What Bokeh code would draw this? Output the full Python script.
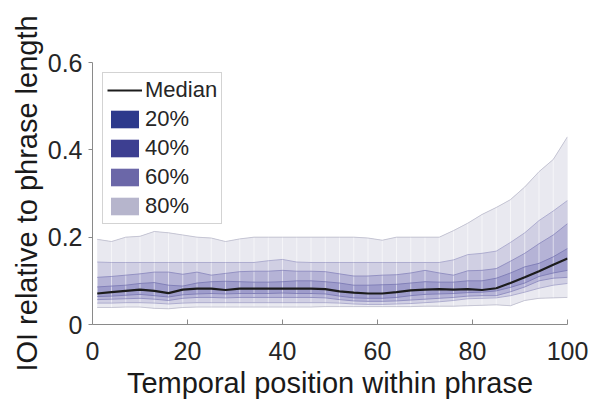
from bokeh.plotting import figure
from bokeh.models import Range1d, FixedTicker, Legend, LegendItem
from bokeh.embed import file_html
from bokeh.resources import INLINE

# ---- data ----
pos = [1, 4, 7, 10, 13, 16, 19, 22, 25, 28, 31, 34, 37, 40, 43, 46, 49, 52,
       55, 58, 61, 64, 67, 70, 73, 76, 79, 82, 85, 88, 91, 94, 97, 100]
p90 = [0.195, 0.19, 0.2, 0.202, 0.213, 0.21, 0.205, 0.2, 0.198, 0.19, 0.196, 0.2,
       0.2, 0.2, 0.2, 0.2, 0.2, 0.2, 0.2, 0.198, 0.193, 0.2, 0.2, 0.2, 0.2, 0.215,
       0.232, 0.252, 0.268, 0.286, 0.315, 0.35, 0.378, 0.43]
p80 = [0.143, 0.142, 0.142, 0.142, 0.142, 0.142, 0.142, 0.142, 0.142, 0.142, 0.142,
       0.142, 0.146, 0.149, 0.143, 0.142, 0.142, 0.142, 0.142, 0.142, 0.142, 0.142,
       0.142, 0.142, 0.142, 0.148, 0.16, 0.163, 0.168, 0.188, 0.21, 0.238, 0.26, 0.284]
p70 = [0.108, 0.11, 0.113, 0.116, 0.12, 0.12, 0.115, 0.12, 0.113, 0.117, 0.121, 0.122,
       0.122, 0.124, 0.122, 0.122, 0.121, 0.116, 0.111, 0.111, 0.113, 0.114, 0.118,
       0.124, 0.118, 0.113, 0.123, 0.124, 0.128, 0.145, 0.163, 0.185, 0.205, 0.231]
p60 = [0.086, 0.088, 0.09, 0.094, 0.096, 0.09, 0.088, 0.095, 0.098, 0.099, 0.098, 0.097,
       0.097, 0.098, 0.1, 0.1, 0.098, 0.095, 0.09, 0.09, 0.091, 0.092, 0.095, 0.098,
       0.097, 0.097, 0.1, 0.1, 0.106, 0.118, 0.132, 0.14, 0.155, 0.174]
median = [0.071, 0.074, 0.077, 0.08, 0.077, 0.072, 0.08, 0.082, 0.082, 0.079, 0.082,
          0.082, 0.082, 0.082, 0.082, 0.082, 0.081, 0.076, 0.073, 0.071, 0.071, 0.074,
          0.078, 0.08, 0.081, 0.08, 0.081, 0.079, 0.083, 0.095, 0.108, 0.122, 0.137, 0.151]
p40 = [0.064, 0.065, 0.067, 0.069, 0.066, 0.063, 0.068, 0.07, 0.071, 0.07, 0.071, 0.071,
       0.071, 0.072, 0.071, 0.071, 0.07, 0.065, 0.061, 0.06, 0.06, 0.062, 0.066, 0.069,
       0.07, 0.071, 0.073, 0.074, 0.077, 0.085, 0.095, 0.11, 0.118, 0.124]
p30 = [0.057, 0.058, 0.059, 0.06, 0.058, 0.055, 0.06, 0.062, 0.062, 0.061, 0.062, 0.062,
       0.062, 0.062, 0.062, 0.062, 0.061, 0.057, 0.054, 0.053, 0.053, 0.054, 0.056,
       0.058, 0.06, 0.062, 0.065, 0.066, 0.066, 0.075, 0.086, 0.1, 0.106, 0.108]
p20 = [0.049, 0.049, 0.05, 0.05, 0.049, 0.047, 0.049, 0.05, 0.05, 0.05, 0.05, 0.05,
       0.05, 0.05, 0.05, 0.05, 0.05, 0.049, 0.047, 0.046, 0.046, 0.047, 0.048, 0.05,
       0.052, 0.055, 0.059, 0.06, 0.061, 0.066, 0.074, 0.083, 0.09, 0.094]
p10 = [0.039, 0.039, 0.04, 0.04, 0.037, 0.036, 0.039, 0.04, 0.04, 0.04, 0.04, 0.04,
       0.04, 0.04, 0.04, 0.04, 0.041, 0.041, 0.041, 0.041, 0.041, 0.041, 0.041, 0.042,
       0.042, 0.042, 0.043, 0.044, 0.045, 0.043, 0.055, 0.06, 0.061, 0.062]

band_labels = ["20%", "40%", "60%", "80%"]
x_ticks = [0, 20, 40, 60, 80, 100]
y_ticks = [0, 0.2, 0.4, 0.6]
y_tick_labels = ["0", "0.2", "0.4", "0.6"]
x_title = "Temporal position within phrase"
y_title = "IOI relative to phrase length"

FONT = "Liberation Sans"

p = figure(width=590, height=405, output_backend="svg", toolbar_location=None,
           x_range=Range1d(0, 100), y_range=Range1d(0, 0.6),
           min_border_left=92, min_border_right=23, min_border_top=62,
           min_border_bottom=81)
p.outline_line_color = None
p.grid.visible = False
p.background_fill_color = "white"
p.border_fill_color = "white"

uppers = [p60, p70, p80, p90]   # 20%, 40%, 60%, 80% bands
lowers = [p40, p30, p20, p10]

# legend swatch renderers (hidden underneath the opaque bands drawn later)
sw_colors = ["#2d3a8c", "#3d3f91", "#6b67a8", "#b6b5cc"]
sw_renderers = []
for up, lo, c in zip(uppers, lowers, sw_colors):
    sw_renderers.append(p.varea(x=pos, y1=lo, y2=up, fill_color=c))

# visible bands, outer to inner
fills = {"80%": "#e9e9f0", "60%": "#d0cfe3", "40%": "#b5b3d6", "20%": "#9e9ccb"}
edges = {"80%": "#c6c6d4", "60%": "#aeadcf", "40%": "#9391c2", "20%": "#8280b8"}
for i in [3, 2, 1, 0]:
    lab = band_labels[i]
    p.varea(x=pos, y1=lowers[i], y2=uppers[i], fill_color=fills[lab])

# faint vertical seams like the reference's patch stripes
p.segment(x0=pos, y0=p10, x1=pos, y1=p90, line_color="white", line_alpha=0.55,
          line_width=1)

for i in [3, 2, 1, 0]:
    lab = band_labels[i]
    p.line(pos, uppers[i], line_color=edges[lab], line_width=1)
    p.line(pos, lowers[i], line_color=edges[lab], line_width=1)

med = p.line(pos, median, line_color="#1c1c1c", line_width=2.2)

items = [LegendItem(label="Median", renderers=[med])]
for lab, r in zip(band_labels, sw_renderers):
    items.append(LegendItem(label=lab, renderers=[r]))

legend = Legend(items=items, location="top_left", margin=10, padding=4,
                spacing=3, glyph_width=35, glyph_height=22, label_standoff=3,
                label_text_font=FONT, label_text_font_size="22px",
                label_text_color="#262626", border_line_color="#a8a8a8",
                border_line_width=1, background_fill_color="white",
                background_fill_alpha=1.0, label_height=22)
p.add_layout(legend, "center")

# axes
for ax in (p.xaxis, p.yaxis):
    ax.axis_line_color = "#8a8a8a"
    ax.major_tick_line_color = "#8a8a8a"
    ax.minor_tick_line_color = None
    ax.major_label_text_font = FONT
    ax.major_label_text_font_size = "25px"
    ax.major_label_text_color = "#262626"
    ax.axis_label_text_font = FONT
    ax.axis_label_text_font_size = "29px"
    ax.axis_label_text_font_style = "normal"
    ax.axis_label_text_color = "#1a1a1a"

p.xaxis.ticker = FixedTicker(ticks=x_ticks)
p.xaxis.major_tick_in = 5
p.xaxis.major_tick_out = 0
p.xaxis.major_label_standoff = 17
p.xaxis.axis_label = x_title
p.xaxis.axis_label_standoff = 4

p.yaxis.ticker = FixedTicker(ticks=y_ticks)
p.yaxis.major_label_overrides = {t: s for t, s in zip(y_ticks, y_tick_labels)}
p.yaxis.major_tick_in = 0
p.yaxis.major_tick_out = 4
p.yaxis.major_label_standoff = 6
p.yaxis.axis_label = y_title
p.yaxis.axis_label_standoff = 2

open("out.html", "w").write(file_html(p, INLINE))
